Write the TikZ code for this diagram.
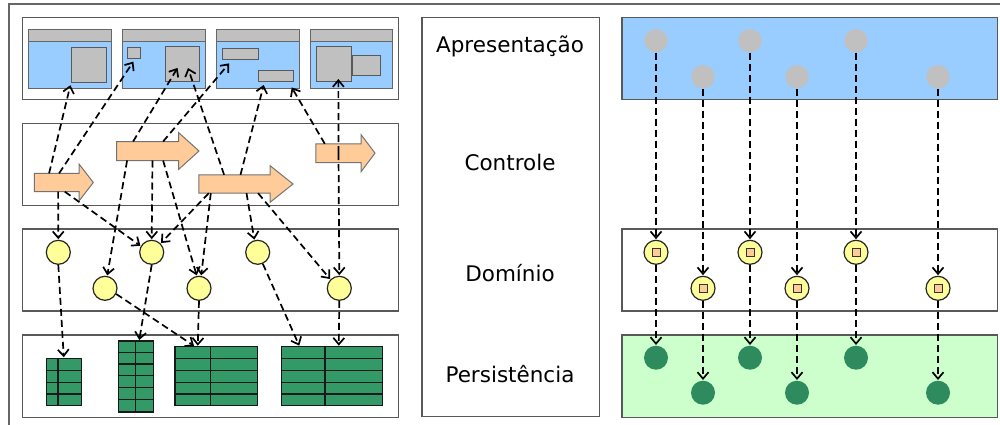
\documentclass[tikz,border=0pt]{standalone}
\usepackage{fontspec}
\setmainfont{DejaVu Sans}
\usetikzlibrary{arrows.meta,fit,calc}

\definecolor{skyblue}{HTML}{99CCFF}
\definecolor{peach}{HTML}{FFCC99}
\definecolor{paleyellow}{HTML}{FFFF99}
\definecolor{tablegreen}{HTML}{339966}
\definecolor{dotgreen}{HTML}{2E8B5E}
\definecolor{mint}{HTML}{CCFFCC}
\definecolor{widgetgray}{HTML}{C0C0C0}

% block arrow of the control layer: name, body corners (x0,y0) (x1,y1), tip x
\newcommand\ctrlarrow[6]{%
  \node[fit={(#2,#3) (#4,#5)}, inner sep=0pt] (#1) {};
  \filldraw[ctrl] (#1.south west) -- (#1.north west) -- (#1.north east)
    -- ([yshift=9pt]#1.north east) -- (#6,{(#3+#5)/2})
    -- ([yshift=-9pt]#1.south east) -- (#1.south east) -- cycle;
}
% application window: name, left x, right x
\newcommand\appwin[3]{%
  \node[winbody, fit={(#2,41.3) (#3,89)}] (#1) {};
  \node[winbar, fit={(#2,29.3) (#3,41.3)}] (#1bar) {};
}
% database table: name, corners, column x, row lines
\newcommand\dbtable[7]{%
  \node[tbl, fit={(#2,#3) (#4,#5)}] (#1) {};
  \draw[tblline] (#6,#3) -- (#6,#5);
  \foreach \h in {#7} \draw[tblline] (#2,\h) -- (#4,\h);
}

\begin{document}
\begin{tikzpicture}[x=1pt,y=-1pt,
  layer/.style={draw=black!65, line width=1.1pt, inner sep=0pt},
  winbody/.style={draw=black!60, fill=skyblue, line width=1pt, inner sep=0pt},
  winbar/.style={draw=black!60, fill=widgetgray, line width=1pt, inner sep=0pt},
  widget/.style={draw=black!65, fill=widgetgray, line width=1pt, inner sep=0pt},
  ctrl/.style={draw=black!55, fill=peach, line width=1pt},
  ent/.style={circle, draw=black!85, fill=paleyellow, line width=1.2pt, minimum size=24pt, inner sep=0pt},
  tbl/.style={draw=black!90, fill=tablegreen, line width=1.1pt, inner sep=0pt},
  tblline/.style={draw=black!90, line width=1.1pt},
  screen/.style={circle, fill=widgetgray, minimum size=23.4pt, inner sep=0pt},
  chip/.style={draw=black!80, fill=peach, line width=0.9pt, minimum size=8pt, inner sep=0pt},
  record/.style={circle, fill=dotgreen, minimum size=24pt, inner sep=0pt},
  lbl/.style={font=\fontsize{21.5}{26}\selectfont, inner sep=0pt, anchor=base},
  conn/.style={draw=black, line width=1.7pt, dash pattern=on 7pt off 4pt,
    -{Straight Barb[length=6.5pt,width=11pt]}, shorten >=0.5pt}]

\useasboundingbox (0,0) rectangle (1000,425);

% outer frame
\draw[black!60, line width=1.8pt] (9.3,425) -- (9.3,4.3) -- (1000,4.3);

% ---------- left panel: layers ----------
\node[layer, fit={(22.7,17.7) (398.7,99.3)}] (lpres) {};
\node[layer, fit={(22.7,123.3) (398.7,205.7)}] (lctrl) {};
\node[layer, fit={(22.7,229) (398.7,311)}] (ldom) {};
\node[layer, fit={(22.7,335) (398.7,417.7)}] (lpers) {};

% windows
\appwin{w1}{28.3}{111}
\appwin{w2}{122.7}{205}
\appwin{w3}{216.7}{299}
\appwin{w4}{310.3}{392.7}
\node[widget, fit={(71,47.7) (106,82.7)}] (w1i) {};
\node[widget, fit={(127,47.3) (140.3,58.7)}] (w2s) {};
\node[widget, fit={(165,47) (199.7,82)}] (w2b) {};
\node[widget, fit={(222,48.3) (258,60)}] (w3a) {};
\node[widget, fit={(258.7,70.7) (293.7,82)}] (w3b) {};
\node[widget, fit={(352,55.7) (380.7,75.7)}] (w4b) {};
\node[widget, fit={(316,47) (351.7,82)}] (w4a) {};

% controllers
\ctrlarrow{a1}{34.5}{173.5}{79}{191.5}{93.3}
\ctrlarrow{a2}{116.7}{141.7}{178.3}{160.3}{199}
\ctrlarrow{a3}{199}{175}{270}{193}{293}
\ctrlarrow{a4}{316}{144}{361}{162.3}{375}

% domain objects
\node[ent] (c1) at (58.3,252.3) {};
\node[ent] (c2) at (151.7,252.3) {};
\node[ent] (c3) at (257.7,252.3) {};
\node[ent] (c4) at (105,288.3) {};
\node[ent] (c5) at (199,288.3) {};
\node[ent] (c6) at (339.3,288.3) {};

% tables
\dbtable{t1}{46.3}{358.3}{81.3}{405.7}{58}{370.3,382.3,394}
\dbtable{t2}{118.7}{341}{153.7}{412}{135.7}{352.7,364,375.7,387.7,399.3}
\dbtable{t3}{175}{346.7}{257.7}{405.7}{210.7}{358.3,370.7,382.3,394}
\dbtable{t4}{281.3}{346.7}{382.3}{405.7}{325}{358.3,370.7,382.3,394}

% control -> presentation
\draw[conn] ([xshift=14.8pt]a1.north west) -- ([yshift=-1.5pt]w1i.south west);
\draw[conn] ([xshift=24.8pt]a1.north west) -- ([yshift=-2pt]w2s.south);
\draw[conn] ([xshift=16.6pt]a2.north west) -- ([xshift=13.3pt,yshift=15pt]w2b.south west);
\draw[conn] ([xshift=46.6pt]a2.north west) -- ([xshift=8pt,yshift=-2.5pt]w3a.south west);
\draw[conn] ([xshift=25.3pt]a3.north west) -- ([xshift=23.3pt,yshift=15pt]w2b.south west);
\draw[conn] ([xshift=41.7pt]a3.north west) -- ([xshift=5.6pt,yshift=-2pt]w3b.south west);
\draw[conn] ([xshift=9pt]a4.north west) -- ([xshift=-2.7pt,yshift=-4.5pt]w3b.south east);
\draw[conn] (a4.center) -- ([xshift=4.5pt,yshift=4pt]w4a.south);

% control -> domain
\draw[conn] (a4.center) -- (c6.north);
\draw[conn] ([xshift=23.8pt]a1.south west) -- (c1.north);
\draw[conn] ([xshift=30.5pt]a1.south west) -- (c2.150);
\draw[conn] ([xshift=10.6pt]a2.south west) -- (c4.80);
\draw[conn] ([xshift=36pt]a2.south west) -- (c2.north);
\draw[conn] ([xshift=46.6pt]a2.south west) -- (c5.100);
\draw[conn] ([xshift=10pt]a3.south west) -- (c2.45);
\draw[conn] ([xshift=12pt]a3.south west) -- (c5.80);
\draw[conn] ([xshift=47.7pt]a3.south west) -- (c3.105);
\draw[conn] ([xshift=59.3pt]a3.south west) -- (c6.135);

% domain -> persistence
\draw[conn] (c1.south) -- (t1.north);
\draw[conn] (c2.south) -- ([xshift=3pt]t2.north);
\draw[conn] (c4.-27) -- ([xshift=20pt]t3.north west);
\draw[conn] (c5.south) -- ([xshift=23.3pt]t3.north west);
\draw[conn] (c3.-66) -- ([xshift=18.7pt]t4.north west);
\draw[conn] (c6.south) -- ([xshift=58pt]t4.north west);

% ---------- middle panel: layer names ----------
\node[layer, fit={(422,17.7) (599.3,416.7)}] (names) {};
\node[lbl] (npres) at (510,52.7) {Apresentação};
\node[lbl] (nctrl) at (510,170.7) {Controle};
\node[lbl] (ndom) at (510,281) {Domínio};
\node[lbl] (npers) at (510,382.7) {Persistência};

% ---------- right panel ----------
\node[layer, fill=skyblue, fit={(622,17.7) (997.7,99.3)}] (rpres) {};
\node[layer, fit={(622,229) (997.7,311)}] (rdom) {};
\node[layer, fill=mint, fit={(622,335) (997.7,417.7)}] (rpers) {};

\foreach \i/\x/\r in {1/656/0, 2/703/1, 3/750/0, 4/797/1, 5/856/0, 6/938/1} {
  \node[screen] (g\i) at (\x,{40.7+36*\r}) {};
  \node[ent] (y\i) at (\x,{252.3+36*\r}) {};
  \node[chip] (s\i) at (y\i.center) {};
  \node[record] (d\i) at (\x,{357.7+35*\r}) {};
  \draw[conn] (g\i.south) -- (y\i.north);
  \draw[conn] (y\i.south) -- (d\i.north);
}
\end{tikzpicture}
\end{document}
